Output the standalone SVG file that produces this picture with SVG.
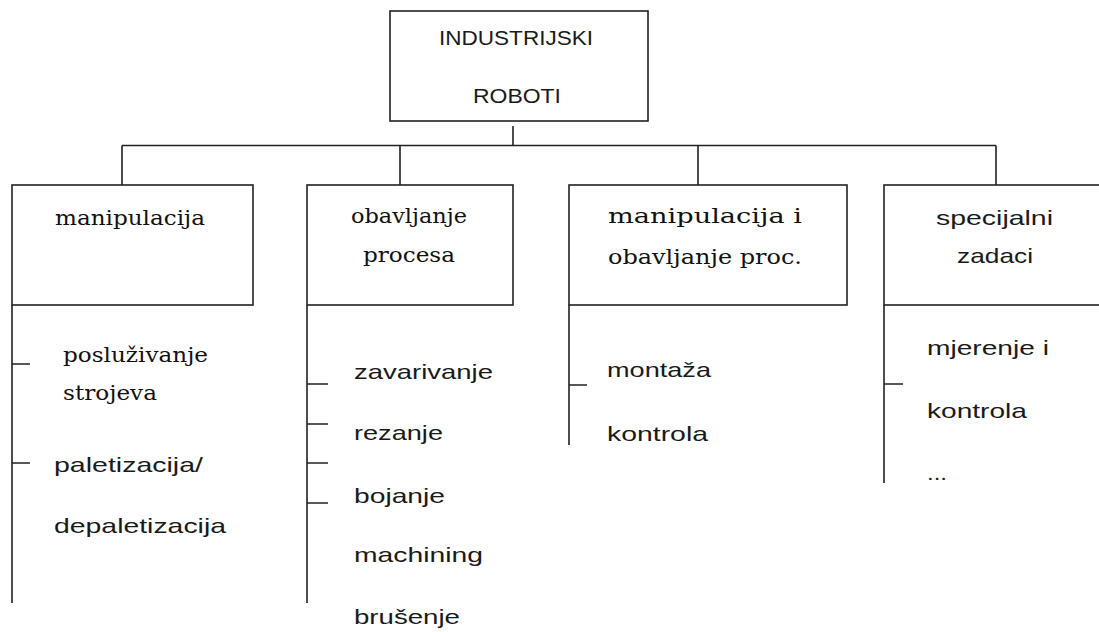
<svg xmlns="http://www.w3.org/2000/svg" width="1099" height="632" viewBox="0 0 1099 632">
<style>
.box{fill:#fff;stroke:#222;stroke-width:1.6}
.ln{fill:none;stroke:#222;stroke-width:1.6}
.s{font-family:"Liberation Sans",Arial,sans-serif;font-size:21px;fill:#1a1a1a}
.r{font-family:"DejaVu Serif","Liberation Serif",serif;font-size:21px;fill:#111}
</style>
<rect width="1099" height="632" fill="#fff"/>
<g id="connectors" class="ln">
<path d="M513 126V145.5M122 145.5H996M122 145.5V185M400 145.5V185M698 145.5V185M996 145.5V185"/>
<path d="M12 305V603M12 364H30M12 463H30"/>
<path d="M307 305V603M307 384H328M307 424H328M307 463H328M307 503H328"/>
<path d="M569 305V445M569 385H587"/>
<path d="M884 305V483M884 384H903"/>
</g>
<g id="root">
<rect class="box" x="390" y="11" width="258" height="110"/>
<text class="s" x="439" y="45" textLength="154" lengthAdjust="spacingAndGlyphs">INDUSTRIJSKI</text>
<text class="s" x="473" y="103" textLength="88" lengthAdjust="spacingAndGlyphs">ROBOTI</text>
</g>
<g id="manipulacija">
<rect class="box" x="12" y="185" width="241" height="120"/>
<text class="r" x="55" y="225" textLength="150" lengthAdjust="spacingAndGlyphs">manipulacija</text>
</g>
<g id="obavljanje">
<rect class="box" x="307" y="185" width="206" height="120"/>
<text class="r" x="351" y="223" textLength="116" lengthAdjust="spacingAndGlyphs">obavljanje</text>
<text class="r" x="363" y="262" textLength="92" lengthAdjust="spacingAndGlyphs">procesa</text>
</g>
<g id="manip-obav">
<rect class="box" x="569" y="185" width="278" height="120"/>
<text class="r" x="608" y="223" textLength="194" lengthAdjust="spacingAndGlyphs">manipulacija  i</text>
<text class="r" x="608" y="264" textLength="194" lengthAdjust="spacingAndGlyphs">obavljanje  proc.</text>
</g>
<g id="specijalni">
<rect class="box" x="884" y="185" width="222" height="120"/>
<text class="s" x="936" y="225" textLength="117" lengthAdjust="spacingAndGlyphs">specijalni</text>
<text class="s" x="957" y="263" textLength="76" lengthAdjust="spacingAndGlyphs">zadaci</text>
</g>
<g id="list-manipulacija">
<text class="r" x="63" y="362" textLength="145" lengthAdjust="spacingAndGlyphs">posluživanje</text>
<text class="r" x="63" y="400" textLength="94" lengthAdjust="spacingAndGlyphs">strojeva</text>
<text class="s" x="54" y="472" textLength="149" lengthAdjust="spacingAndGlyphs">paletizacija/</text>
<text class="s" x="54" y="533" textLength="172" lengthAdjust="spacingAndGlyphs">depaletizacija</text>
</g>
<g id="list-obavljanje">
<text class="s" x="354" y="379" textLength="139" lengthAdjust="spacingAndGlyphs">zavarivanje</text>
<text class="s" x="354" y="440" textLength="89" lengthAdjust="spacingAndGlyphs">rezanje</text>
<text class="s" x="354" y="503" textLength="91" lengthAdjust="spacingAndGlyphs">bojanje</text>
<text class="s" x="354" y="562" textLength="129" lengthAdjust="spacingAndGlyphs">machining</text>
<text class="s" x="354" y="624" textLength="106" lengthAdjust="spacingAndGlyphs">brušenje</text>
</g>
<g id="list-manip-obav">
<text class="s" x="607" y="377" textLength="104" lengthAdjust="spacingAndGlyphs">montaža</text>
<text class="s" x="607" y="441" textLength="101" lengthAdjust="spacingAndGlyphs">kontrola</text>
</g>
<g id="list-specijalni">
<text class="s" x="927" y="355" textLength="122" lengthAdjust="spacingAndGlyphs">mjerenje i</text>
<text class="s" x="927" y="418" textLength="100" lengthAdjust="spacingAndGlyphs">kontrola</text>
<text class="s" x="927" y="480" textLength="20" lengthAdjust="spacingAndGlyphs">...</text>
</g>
</svg>
